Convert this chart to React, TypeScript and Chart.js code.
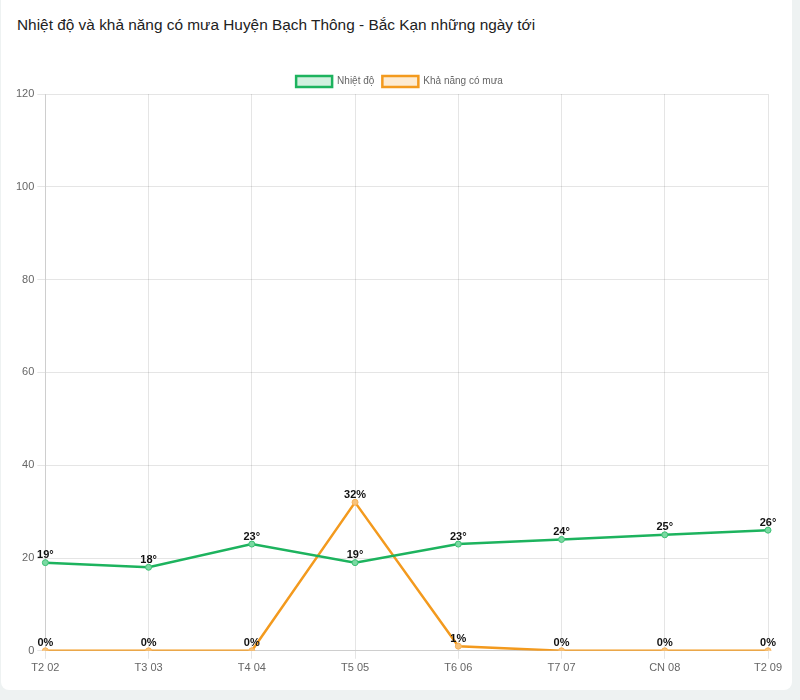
import React, { useEffect, useRef } from "react";
import { Chart, registerables } from "chart.js";

Chart.register(...registerables);

const titleText = "Nhiệt độ và khả năng có mưa Huyện Bạch Thông - Bắc Kạn những ngày tới";
const categories = ["T2 02", "T3 03", "T4 04", "T5 05", "T6 06", "T7 07", "CN 08", "T2 09"];
const temperature = [19, 18, 23, 19, 23, 24, 25, 26];
const rainChance = [0, 0, 0, 32, 1, 0, 0, 0];
const tempLabel = "Nhiệt độ";
const rainLabel = "Khả năng có mưa";
const yMin = 0;
const yMax = 120;
const yStep = 20;

const FONT = "'Liberation Sans', Arial, Helvetica, sans-serif";

const valueLabels = {
  id: "valueLabels",
  afterDatasetsDraw(chart: any) {
    const ctx = chart.ctx;
    ctx.save();
    ctx.font = `bold 11px ${FONT}`;
    ctx.fillStyle = "#111";
    ctx.textAlign = "center";
    ctx.textBaseline = "bottom";
    chart.data.datasets.forEach((ds: any, i: number) => {
      const meta = chart.getDatasetMeta(i);
      const suffix = ds.suffix || "";
      meta.data.forEach((pt: any, j: number) => {
        ctx.fillText(String(ds.data[j]) + suffix, pt.x, pt.y - 2);
      });
    });
    ctx.restore();
  },
};

const legendTweak = {
  id: "legendTweak",
  beforeInit(chart: any) {
    const legend = chart.legend;
    if (!legend) return;
    const origFit = legend.fit;
    legend.fit = function () {
      origFit.call(this);
      this.height -= 3;
    };
    const origDraw = legend.draw;
    legend.draw = function (...args: any[]) {
      const ctx = this.ctx;
      ctx.save();
      ctx.translate(9, 0);
      origDraw.apply(this, args);
      ctx.restore();
    };
  },
};

export default function App() {
  const ref = useRef<HTMLCanvasElement | null>(null);
  useEffect(() => {
    if (!ref.current) return;
    const chart = new Chart(ref.current, {
      type: "line",
      data: {
        labels: categories,
        datasets: [
          {
            label: tempLabel,
            data: temperature,
            borderColor: "#1db35e",
            backgroundColor: "rgba(29,179,94,0.2)",
            pointBackgroundColor: "#7ad9a2",
            pointBorderColor: "#3cbf74",
            borderWidth: 2.5,
            pointRadius: 3,
            pointBorderWidth: 1,
            tension: 0,
            fill: false,
            suffix: "°",
          } as any,
          {
            label: rainLabel,
            data: rainChance,
            borderColor: "#f39a1e",
            backgroundColor: "rgba(243,154,30,0.2)",
            pointBackgroundColor: "#f8c27a",
            pointBorderColor: "#f6b25a",
            borderWidth: 2.5,
            pointRadius: 3,
            pointBorderWidth: 1,
            tension: 0,
            fill: false,
            suffix: "%",
          } as any,
        ],
      },
      options: {
        animation: false,
        responsive: false,
        maintainAspectRatio: false,
        layout: { padding: { left: 12, right: 24, top: 1, bottom: 6 } },
        plugins: {
          legend: {
            display: true,
            labels: {
              font: { family: FONT, size: 10 },
              color: "#666",
              boxWidth: 36,
              boxHeight: 11,
              padding: 8,
            },
          },
          tooltip: { enabled: false },
          title: { display: false },
        },
        scales: {
          x: {
            grid: { color: "rgba(0,0,0,0.1)" },
            ticks: { font: { family: FONT, size: 11 }, color: "#666" },
          },
          y: {
            min: yMin,
            max: yMax,
            ticks: { stepSize: yStep, font: { family: FONT, size: 11 }, color: "#666" },
            grid: { color: "rgba(0,0,0,0.1)" },
          },
        },
      },
      plugins: [valueLabels, legendTweak],
    });
    return () => chart.destroy();
  }, []);

  return (
    <div style={{ position: "fixed", left: 0, top: 0, width: 800, height: 700, background: "#eef2f2" }}>
      <div
        style={{
          position: "absolute",
          left: 1,
          top: -8,
          width: 791,
          height: 698,
          background: "#fff",
          borderRadius: 8,
        }}
      >
        <div
          style={{
            position: "absolute",
            left: 16,
            top: 24,
            fontFamily: FONT,
            fontSize: 15.4,
            color: "#222",
            whiteSpace: "nowrap",
          }}
        >
          {titleText}
        </div>
        <canvas
          ref={ref}
          width={791}
          height={617}
          style={{ position: "absolute", left: 0, top: 75, width: 791, height: 617 }}
        />
      </div>
    </div>
  );
}
